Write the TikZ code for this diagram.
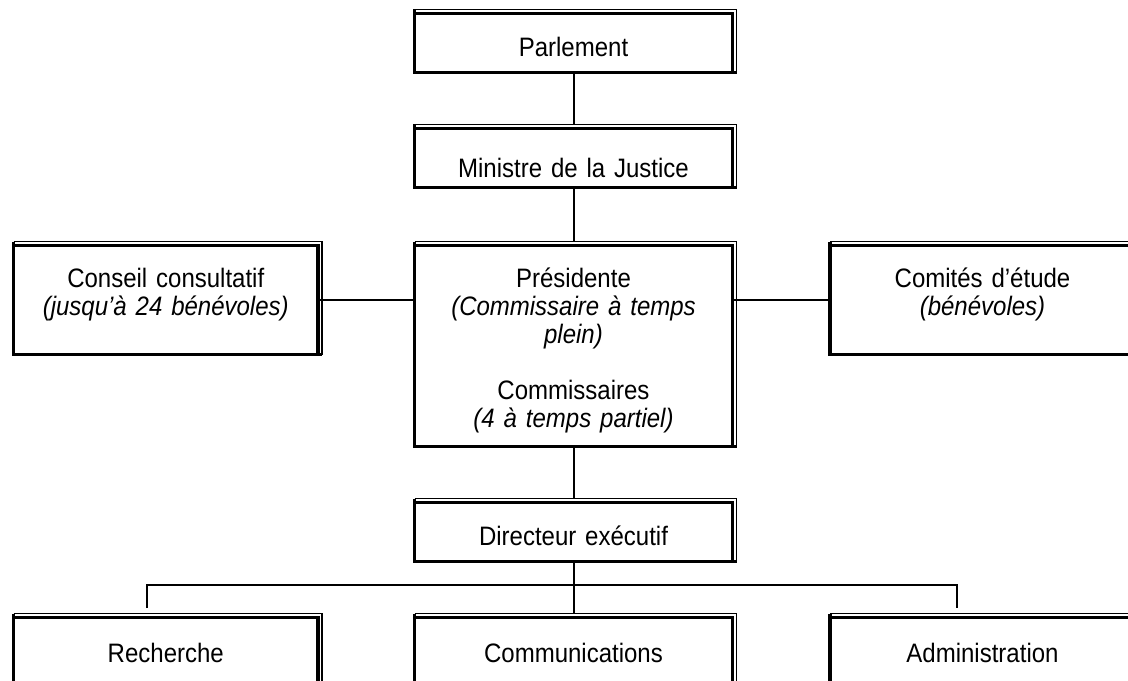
\documentclass[tikz,border=0pt]{standalone}
\usepackage{fontspec}
\setmainfont[FakeStretch=0.9, WordSpace=0.8]{Liberation Sans}
\tikzset{
  unitbox/.style={draw, line width=2.6pt, inner xsep=0pt, inner ysep=0pt, outer sep=0pt,
    anchor=north west, align=center, text height=32.25pt,
    font=\fontsize{20}{21}\selectfont},
  thinframe/.style={line width=0.9pt},
  link/.style={line width=1.5pt},
  busline/.style={line width=1pt}
}

\begin{document}
\begin{tikzpicture}[x=0.75pt, y=-0.75pt]
        \path[use as bounding box, clip] (0,0) rectangle (1128,681);
        % Top chain
        \node[unitbox, text width=238.5pt, text depth=12pt] (parl) at (414.5,13.5) {Parlement};
        \node[unitbox, text width=238.5pt, text height=36.75pt, text depth=7.5pt] (min) at (414.5,128.5)
          {Ministre de la Justice};
        % Middle row
        \node[unitbox, text width=238.5pt, text height=31.5pt, text depth=119.25pt] (pres) at (414.5,245.5)
          {Présidente\\ \textit{(Commissaire à temps}\\ \textit{plein)}\\[21pt]
           Commissaires\\ \textit{(4 à temps partiel)}};
        \node[unitbox, text width=228.4pt, text height=31.5pt, text depth=50.25pt] (conseil) at (13.5,245.5)
          {Conseil consultatif\\ \textit{(jusqu’à 24 bénévoles)}};
        \node[unitbox, text width=228.75pt, text height=31.5pt, text depth=50.25pt] (comites) at (830,245.5)
          {Comités d’étude\\ \textit{(bénévoles)}};
        % Executive
        \node[unitbox, text width=238.5pt, text height=31.9pt, text depth=12.4pt] (dir) at (414.5,502.5)
          {Directeur exécutif};
        % Branches
        \node[unitbox, text width=228.4pt, text height=33.4pt, text depth=45pt] (rech) at (13.5,617.5) {Recherche};
        \node[unitbox, text width=238.5pt, text height=33.4pt, text depth=45pt] (comm) at (414.5,617.5) {Communications};
        \node[unitbox, text width=228.75pt, text height=33.4pt, text depth=45pt] (admin) at (830,617.5) {Administration};
        % Outer thin frame on top and right
        \foreach \b in {parl,min,pres,conseil,comites,dir,rech,comm,admin} {
          \draw[thinframe] ([yshift=3pt]\b.north west) -- ([shift={(3pt,3pt)}]\b.north east)
            -- ([xshift=3pt]\b.south east);
          \draw[line width=2.6pt] ([yshift=3pt]\b.north west) -- (\b.north west);
          \draw[line width=2.6pt] (\b.south east) -- ([xshift=3pt]\b.south east);
        }
        % Links
        \draw[link] (parl.south) -- ([yshift=3pt]min.north);
        \draw[link] (min.south) -- ([yshift=3pt]pres.north);
        \draw[link] (conseil.east) -- (conseil.east -| pres.west);
        \draw[link] (comites.west) -- (comites.west -| pres.east);
        \draw[link] (pres.south) -- ([yshift=3pt]dir.north);
        \draw[link] (dir.south) -- ([yshift=3pt]comm.north);
        % Bus to the branches
        \coordinate (teeL) at (147,608);
        \coordinate (busL) at (147,585);
        \coordinate (busR) at (957,585);
        \coordinate (teeR) at (957,608);
        \draw[busline] (teeL) -- (busL) -- (busR) -- (teeR);
      \end{tikzpicture}
\end{document}
